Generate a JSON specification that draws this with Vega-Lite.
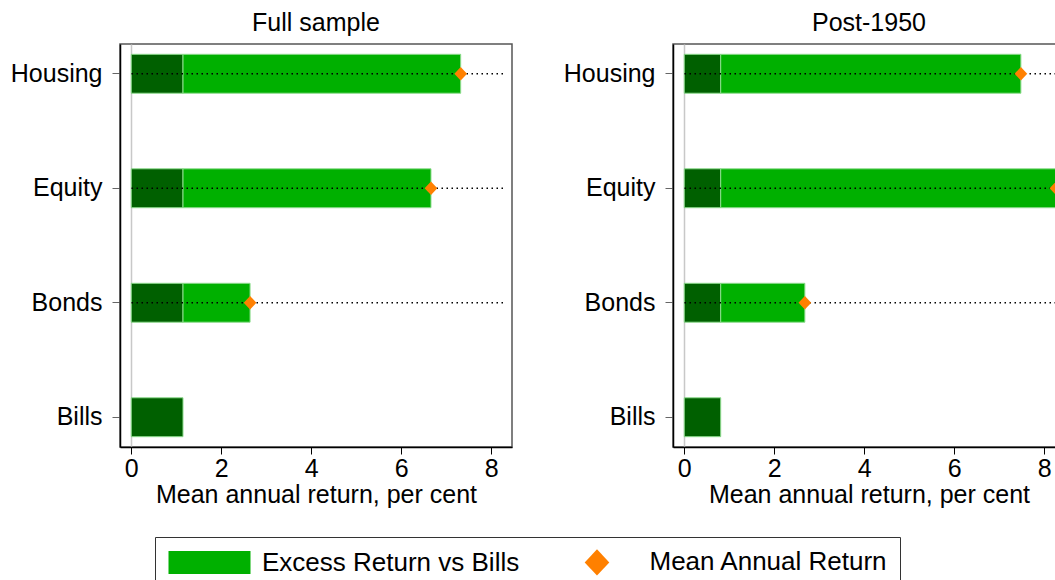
{
  "$schema": "https://vega.github.io/schema/vega-lite/v6.json",
  "background": "white",
  "padding": {"left": 9, "top": 11, "right": 0, "bottom": 0},
  "config": {
    "font": "Liberation Sans",
    "view": {"stroke": "#555555", "strokeWidth": 1.5},
    "legend": {
      "orient": "none",
      "legendX": 35,
      "legendY": 493,
      "direction": "horizontal",
      "columns": 2,
      "symbolSize": 529,
      "labelOffset": 39.5,
      "columnPadding": 64.5,
      "gridAlign": "each",
      "padding": 12,
      "strokeColor": "#333333",
      "labelFontSize": 26,
      "labelColor": "black",
      "labelLimit": 0,
      "titleOrient": "left",
      "titleFontSize": 1,
      "titlePadding": 29.5,
      "symbolStrokeWidth": 0,
      "symbolOpacity": 1
    }
  },
  "data": {
    "values": [
      {"panel": "Full sample", "asset": "Housing", "bills": 1.15, "total": 7.32, "excessSeries": "Excess Return vs Bills", "meanSeries": "Mean Annual Return"},
      {"panel": "Full sample", "asset": "Equity", "bills": 1.15, "total": 6.66, "excessSeries": "Excess Return vs Bills", "meanSeries": "Mean Annual Return"},
      {"panel": "Full sample", "asset": "Bonds", "bills": 1.15, "total": 2.64, "excessSeries": "Excess Return vs Bills", "meanSeries": "Mean Annual Return"},
      {"panel": "Full sample", "asset": "Bills", "bills": 1.15, "total": 1.15, "excessSeries": "Excess Return vs Bills", "meanSeries": "Mean Annual Return"},
      {"panel": "Post-1950", "asset": "Housing", "bills": 0.81, "total": 7.48, "excessSeries": "Excess Return vs Bills", "meanSeries": "Mean Annual Return"},
      {"panel": "Post-1950", "asset": "Equity", "bills": 0.81, "total": 8.26, "excessSeries": "Excess Return vs Bills", "meanSeries": "Mean Annual Return"},
      {"panel": "Post-1950", "asset": "Bonds", "bills": 0.81, "total": 2.68, "excessSeries": "Excess Return vs Bills", "meanSeries": "Mean Annual Return"},
      {"panel": "Post-1950", "asset": "Bills", "bills": 0.81, "total": 0.81, "excessSeries": "Excess Return vs Bills", "meanSeries": "Mean Annual Return"}
    ]
  },
  "transform": [
    {"joinaggregate": [{"op": "max", "field": "total", "as": "maxTotal"}]}
  ],
  "facet": {
    "column": {
      "field": "panel",
      "type": "nominal",
      "header": {
        "title": null,
        "labelFontSize": 25,
        "labelColor": "black",
        "labelPadding": 8
      }
    }
  },
  "spacing": 161,
  "bounds": "flush",
  "resolve": {"axis": {"y": "independent", "x": "independent"}},
  "spec": {
    "width": 392,
    "height": 403,
    "layer": [
      {
        "mark": {"type": "bar", "color": "#006000", "stroke": "#8fdc8f", "strokeWidth": 1},
        "encoding": {
          "y": {
            "field": "asset",
            "type": "nominal",
            "sort": ["Housing", "Equity", "Bonds", "Bills"],
            "scale": {"paddingInner": 0.66, "paddingOuter": 0.09},
            "axis": {
              "title": null,
              "labelFontSize": 25,
              "labelColor": "black",
              "labelPadding": 10,
              "tickSize": 8,
              "tickColor": "#666666",
              "domainColor": "black",
              "domainWidth": 1.5
            }
          },
          "x": {
            "field": "bills",
            "type": "quantitative",
            "scale": {"domain": [-0.25, 8.46], "nice": false, "zero": false},
            "axis": {
              "title": "Mean annual return, per cent",
              "values": [0, 2, 4, 6, 8],
              "grid": true,
              "gridWidth": 1.5,
              "gridColor": {"condition": {"test": "datum.value === 0", "value": "#c8c8c8"}, "value": "transparent"},
              "labelFontSize": 25,
              "labelColor": "black",
              "titleFontSize": 25,
              "titleFontWeight": "normal",
              "titleColor": "black",
              "tickSize": 7,
              "tickColor": "black",
              "domainColor": "black",
              "domainWidth": 1.5,
              "labelPadding": 2,
              "titlePadding": 1
            }
          }
        }
      },
      {
        "transform": [{"filter": "datum.asset !== 'Bills'"}],
        "mark": {"type": "bar", "stroke": "#8fdc8f", "strokeWidth": 1},
        "encoding": {
          "y": {"field": "asset", "type": "nominal", "sort": ["Housing", "Equity", "Bonds", "Bills"]},
          "x": {"field": "bills", "type": "quantitative"},
          "x2": {"field": "total"},
          "color": {
            "field": "excessSeries",
            "type": "nominal",
            "scale": {
              "domain": ["Excess Return vs Bills", "Mean Annual Return"],
              "range": ["#00b000", "#ff8000"]
            },
            "legend": {"title": " "}
          }
        }
      },
      {
        "transform": [{"filter": "datum.asset !== 'Bills'"}],
        "mark": {"type": "rule", "color": "black", "strokeWidth": 1.5, "strokeDash": [1.5, 3.5]},
        "encoding": {
          "y": {"field": "asset", "type": "nominal", "sort": ["Housing", "Equity", "Bonds", "Bills"]},
          "x": {"field": "maxTotal", "type": "quantitative"},
          "x2": {"datum": 0}
        }
      },
      {
        "transform": [{"filter": "datum.asset !== 'Bills'"}],
        "mark": {"type": "point", "filled": true, "size": 141, "opacity": 1, "strokeWidth": 0},
        "encoding": {
          "y": {"field": "asset", "type": "nominal", "sort": ["Housing", "Equity", "Bonds", "Bills"]},
          "x": {"field": "total", "type": "quantitative"},
          "color": {"field": "meanSeries", "type": "nominal"},
          "shape": {
            "field": "meanSeries",
            "type": "nominal",
            "scale": {
              "domain": ["Excess Return vs Bills", "Mean Annual Return"],
              "range": ["M-3.565,-1L3.565,-1L3.565,1L-3.565,1Z", "M0,-1.14L1.07,0L0,1.14L-1.07,0Z"]
            },
            "legend": {"title": " "}
          }
        }
      }
    ]
  }
}
